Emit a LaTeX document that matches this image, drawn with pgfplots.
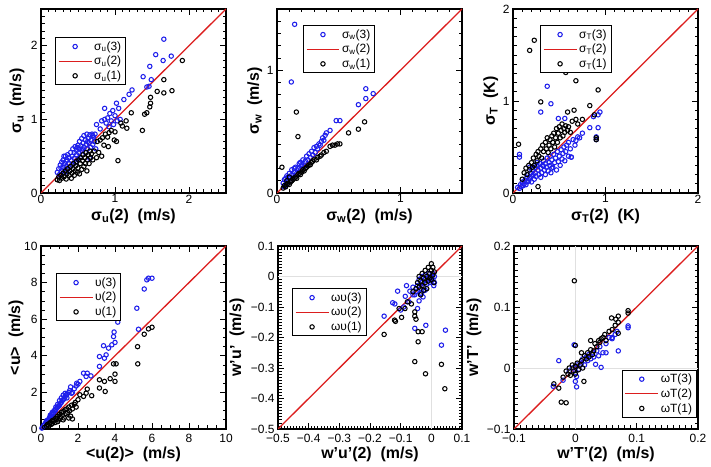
\documentclass[border=0pt]{standalone}
\usepackage{fontspec}
\setmainfont{Liberation Sans}
\usepackage{pgfplots}
\pgfplotsset{compat=1.18}
\definecolor{myblue}{RGB}{30,30,235}
\definecolor{myred}{RGB}{220,30,30}
\pgfplotsset{
  panel/.style={
    scale only axis, width=185bp, height=184bp,
    axis line style={line width=1.1pt},
    every tick/.style={black, line width=0.8pt},
    major tick length=6bp, minor tick length=3.5bp,
    tick label style={font=\fontsize{12}{14}\selectfont},
    xticklabel style={inner sep=1.5pt},
    yticklabel style={inner ysep=0pt},
    label style={font=\fontsize{16}{18}\selectfont\bfseries},
    /pgf/number format/assume math mode=true,
    legend style={draw=black, line width=1pt, font=\fontsize{12}{14}\selectfont,
      inner xsep=2.5pt, inner ysep=2pt, row sep=0.5pt, fill=white},
    legend cell align=left,
    anchor=south west,
    xlabel style={at={(axis description cs:0.5,-0.125)}, anchor=center},
    ylabel style={anchor=center},
  },
  lowrow/.style={xticklabel style={inner sep=0pt, yshift=-5bp},
    xlabel style={at={(axis description cs:0.5,-0.14)}}},
  bl/.style={only marks, mark=o, mark size=2.2bp, color=myblue, mark options={line width=1.05pt},
    legend image code/.code={\draw[mark repeat=2,mark phase=2,##1] plot coordinates {(0cm,0cm)(0.58cm,0cm)(1.16cm,0cm)};}},
  bk/.style={only marks, mark=o, mark size=2.2bp, color=black, mark options={line width=1.05pt},
    legend image code/.code={\draw[mark repeat=2,mark phase=2,##1] plot coordinates {(0cm,0cm)(0.58cm,0cm)(1.16cm,0cm)};}},
  rl/.style={color=myred, line width=1.3pt, no marks,
    legend image code/.code={\draw[##1, line width=1.3pt] (0cm,0cm) -- (1.16cm,0cm);}},
  zl/.style={color=black!12, line width=0.8pt, no marks, forget plot},
}
\begin{document}
\begin{tikzpicture}
\path[use as bounding box] (0,0) rectangle (711bp,467bp);

% ---------------- Panel 1: sigma_u
\begin{axis}[panel, at={(41bp,274bp)},
  xmin=0, xmax=2.5, ymin=0, ymax=2.5,
  xtick={0,1,2}, ytick={0,1,2},
  minor xtick={0,0.1,...,2.5}, minor ytick={0,0.1,...,2.5},
  xlabel={σ\textsubscript{u}(2)~~(m/s)}, ylabel={σ\textsubscript{u}~~(m/s)},
  ylabel style={at={(axis description cs:-0.13,0.5)}},
  legend style={at={(axis description cs:0.076,0.848)}, anchor=north west}]
\addplot[bl] coordinates {
(0.22,0.28)(0.24,0.33)(0.25,0.25)(0.26,0.38)(0.28,0.30)(0.28,0.42)(0.30,0.35)(0.30,0.45)
(0.32,0.28)(0.32,0.40)(0.33,0.50)(0.34,0.36)(0.35,0.45)(0.36,0.52)(0.36,0.32)(0.38,0.40)
(0.38,0.48)(0.40,0.55)(0.40,0.36)(0.41,0.44)(0.42,0.50)(0.43,0.60)(0.44,0.40)(0.45,0.47)
(0.45,0.55)(0.46,0.63)(0.47,0.42)(0.48,0.52)(0.48,0.58)(0.50,0.45)(0.50,0.65)(0.51,0.55)
(0.52,0.60)(0.52,0.70)(0.53,0.48)(0.54,0.64)(0.55,0.58)(0.55,0.74)(0.56,0.52)(0.57,0.68)
(0.58,0.62)(0.58,0.78)(0.60,0.55)(0.60,0.72)(0.61,0.66)(0.62,0.80)(0.63,0.60)(0.64,0.74)
(0.65,0.68)(0.66,0.79)(0.67,0.62)(0.68,0.72)(0.69,0.80)(0.70,0.66)(0.71,0.76)(0.72,0.70)
(0.73,0.80)(0.66,0.47)(0.74,0.60)(0.75,0.93)(0.80,0.87)(0.82,0.98)(0.86,1.15)(0.86,1.00)
(0.88,0.95)(0.90,1.02)(0.92,0.90)(0.93,1.08)(0.95,0.98)(0.97,1.12)(0.98,0.93)(1.00,1.05)
(1.02,1.22)(1.03,0.98)(1.05,1.15)(1.07,1.00)(1.12,1.27)(1.19,1.34)(1.23,1.40)(1.38,1.58)
(1.43,1.44)(1.46,1.45)(1.49,1.54)(1.47,1.72)(1.55,1.88)(1.65,1.80)(1.66,2.09)(1.76,1.86)
(0.27,0.34)(0.34,0.43)(0.42,0.38)(0.49,0.62)(0.56,0.60)(0.63,0.70)(0.70,0.78)(0.31,0.50)
};
\addlegendentry{σ\textsubscript{u}(3)}
\addplot[rl] coordinates {(0,0)(2.5,2.5)};
\addlegendentry{σ\textsubscript{u}(2)}
\addplot[bk] coordinates {
(0.22,0.18)(0.24,0.22)(0.25,0.17)(0.27,0.24)(0.28,0.20)(0.30,0.27)(0.31,0.22)(0.33,0.30)
(0.34,0.19)(0.35,0.26)(0.36,0.33)(0.38,0.24)(0.39,0.30)(0.40,0.36)(0.41,0.20)(0.42,0.27)
(0.43,0.33)(0.44,0.40)(0.45,0.24)(0.46,0.30)(0.47,0.37)(0.48,0.43)(0.49,0.28)(0.50,0.34)
(0.51,0.45)(0.52,0.26)(0.53,0.40)(0.54,0.48)(0.55,0.32)(0.56,0.44)(0.57,0.52)(0.58,0.36)
(0.59,0.48)(0.60,0.40)(0.61,0.55)(0.62,0.30)(0.63,0.45)(0.64,0.52)(0.65,0.40)(0.66,0.57)
(0.67,0.48)(0.68,0.53)(0.70,0.45)(0.72,0.57)(0.75,0.48)(0.76,0.70)(0.78,0.55)(0.80,0.72)
(0.82,0.50)(0.83,0.75)(0.85,0.65)(0.87,0.80)(0.91,0.63)(0.90,0.76)(0.92,0.82)(0.95,0.85)
(0.99,0.72)(1.02,0.70)(1.00,0.83)(1.04,0.44)(1.10,0.91)(1.16,0.88)(1.08,0.95)(1.15,0.98)
(1.22,1.09)(1.37,0.85)(1.40,1.07)(1.43,1.09)(1.47,1.17)(1.48,1.22)(1.48,1.30)(1.57,1.38)
(1.66,1.36)(1.66,1.54)(1.77,1.39)(1.91,1.80)
};
\addlegendentry{σ\textsubscript{u}(1)}
\end{axis}

% ---------------- Panel 2: sigma_w
\begin{axis}[panel, at={(277bp,274bp)},
  xmin=0, xmax=1.5, ymin=0, ymax=1.5,
  xtick={0,1}, ytick={0,1},
  minor xtick={0,0.1,...,1.5}, minor ytick={0,0.1,...,1.5},
  xlabel={σ\textsubscript{w}(2)~~(m/s)}, ylabel={σ\textsubscript{w}~~(m/s)},
  ylabel style={at={(axis description cs:-0.12,0.5)}},
  legend style={at={(axis description cs:0.14,0.913)}, anchor=north west}]
\addplot[bl] coordinates {
(0.05,0.08)(0.06,0.05)(0.06,0.11)(0.07,0.07)(0.08,0.10)(0.08,0.14)(0.09,0.08)(0.10,0.12)
(0.10,0.16)(0.11,0.10)(0.12,0.15)(0.12,0.19)(0.13,0.13)(0.14,0.17)(0.15,0.21)(0.16,0.16)
(0.17,0.20)(0.18,0.24)(0.19,0.19)(0.20,0.23)(0.21,0.27)(0.22,0.22)(0.23,0.26)(0.24,0.30)
(0.25,0.27)(0.26,0.32)(0.27,0.29)(0.28,0.34)(0.29,0.31)(0.30,0.37)(0.31,0.33)(0.32,0.38)
(0.33,0.36)(0.34,0.40)(0.35,0.39)(0.36,0.42)(0.37,0.45)(0.38,0.43)(0.39,0.47)(0.40,0.49)
(0.43,0.51)(0.48,0.59)(0.51,0.59)(0.66,0.72)(0.72,0.77)(0.72,0.85)(0.78,0.81)(0.116,0.905)
(0.143,1.375)(0.07,0.12)(0.09,0.13)(0.14,0.20)(0.19,0.25)
};
\addlegendentry{σ\textsubscript{w}(3)}
\addplot[rl] coordinates {(0,0)(1.5,1.5)};
\addlegendentry{σ\textsubscript{w}(2)}
\addplot[bk] coordinates {
(0.05,0.04)(0.06,0.06)(0.07,0.05)(0.08,0.07)(0.09,0.08)(0.10,0.07)(0.11,0.09)(0.12,0.10)
(0.13,0.11)(0.14,0.12)(0.15,0.13)(0.16,0.12)(0.17,0.15)(0.18,0.16)(0.19,0.15)(0.20,0.17)
(0.21,0.19)(0.22,0.18)(0.23,0.20)(0.24,0.21)(0.25,0.22)(0.26,0.23)(0.27,0.23)(0.28,0.25)
(0.29,0.26)(0.30,0.27)(0.32,0.27)(0.33,0.29)(0.35,0.30)(0.36,0.31)(0.38,0.33)(0.40,0.34)
(0.43,0.38)(0.47,0.39)(0.51,0.40)(0.58,0.49)(0.66,0.52)(0.71,0.58)(0.157,0.66)(0.17,0.46)
(0.04,0.21)(0.08,0.10)(0.10,0.13)(0.45,0.39)(0.49,0.40)
};
\addlegendentry{σ\textsubscript{w}(1)}
\end{axis}

% ---------------- Panel 3: sigma_T
\begin{axis}[panel, at={(513bp,274bp)},
  xmin=0, xmax=2, ymin=0, ymax=2,
  xtick={0,1,2}, ytick={0,1,2},
  minor tick num=9,
  xlabel={σ\textsubscript{T}(2)~~(K)}, ylabel={σ\textsubscript{T}~~(K)},
  ylabel style={at={(axis description cs:-0.12,0.5)}},
  legend style={at={(axis description cs:0.146,0.913)}, anchor=north west}]
\addplot[bl] coordinates {
(0.05,0.06)(0.07,0.05)(0.08,0.09)(0.09,0.07)(0.10,0.12)(0.11,0.08)(0.12,0.10)(0.13,0.14)
(0.14,0.09)(0.15,0.12)(0.15,0.17)(0.16,0.20)(0.17,0.13)(0.18,0.16)(0.19,0.22)(0.20,0.18)
(0.20,0.12)(0.21,0.25)(0.22,0.20)(0.23,0.15)(0.24,0.28)(0.24,0.22)(0.25,0.18)(0.26,0.30)
(0.27,0.25)(0.28,0.20)(0.29,0.32)(0.30,0.27)(0.30,0.17)(0.31,0.22)(0.32,0.30)(0.33,0.35)
(0.34,0.25)(0.35,0.20)(0.35,0.32)(0.36,0.28)(0.37,0.38)(0.38,0.24)(0.39,0.33)(0.40,0.30)
(0.40,0.40)(0.41,0.22)(0.42,0.36)(0.43,0.28)(0.44,0.42)(0.45,0.33)(0.46,0.38)(0.47,0.25)
(0.48,0.45)(0.49,0.34)(0.50,0.40)(0.51,0.30)(0.52,0.47)(0.53,0.37)(0.54,0.43)(0.55,0.50)
(0.56,0.35)(0.57,0.45)(0.58,0.52)(0.60,0.40)(0.60,0.55)(0.62,0.48)(0.63,0.39)(0.65,0.58)
(0.67,0.52)(0.68,0.57)(0.70,0.61)(0.37,1.16)(0.41,0.97)(0.30,0.88)(0.94,0.88)(0.92,0.85)
(0.87,0.83)(0.92,0.71)(0.83,0.71)(0.90,0.61)(0.42,0.27)(0.07,0.42)(0.07,0.39)(0.49,0.81)
(0.56,0.81)(0.90,0.58)(0.75,0.65)(0.72,0.60)(0.63,0.39)(0.18,0.28)(0.26,0.33)(0.33,0.29)
};
\addlegendentry{σ\textsubscript{T}(3)}
\addplot[rl] coordinates {(0,0)(2,2)};
\addlegendentry{σ\textsubscript{T}(2)}
\addplot[bk] coordinates {
(0.12,0.22)(0.14,0.27)(0.15,0.20)(0.17,0.30)(0.18,0.25)(0.20,0.33)(0.21,0.28)(0.22,0.38)
(0.23,0.30)(0.25,0.42)(0.26,0.35)(0.27,0.45)(0.28,0.40)(0.30,0.48)(0.31,0.38)(0.32,0.52)
(0.33,0.45)(0.35,0.55)(0.36,0.48)(0.37,0.60)(0.38,0.44)(0.39,0.52)(0.40,0.58)(0.41,0.48)
(0.42,0.62)(0.43,0.55)(0.44,0.65)(0.45,0.50)(0.46,0.60)(0.47,0.70)(0.48,0.55)(0.49,0.65)
(0.50,0.72)(0.51,0.60)(0.52,0.68)(0.53,0.75)(0.54,0.62)(0.55,0.70)(0.56,0.66)(0.57,0.73)
(0.59,0.68)(0.60,0.72)(0.62,0.66)(0.64,0.78)(0.66,0.90)(0.59,0.88)(0.68,0.80)(0.70,0.75)
(0.75,0.80)(0.23,1.66)(0.18,1.55)(0.57,1.31)(0.68,1.22)(0.92,1.12)(0.30,0.99)(0.83,0.95)
(0.06,0.53)(0.27,0.07)(0.90,0.58)(0.90,0.60)(0.88,0.85)(0.10,0.15)
};
\addlegendentry{σ\textsubscript{T}(1)}
\end{axis}

% ---------------- Panel 4: <u>
\begin{axis}[panel, lowrow, at={(41bp,38bp)}, height=183bp,
  xmin=0, xmax=10, ymin=0, ymax=10,
  xtick={0,2,...,10}, ytick={0,2,...,10},
  minor tick num=3,
  xlabel={<u(2)>~~(m/s)}, ylabel={<u>~~(m/s)},
  ylabel style={at={(axis description cs:-0.135,0.5)}},
  legend style={at={(axis description cs:0.081,0.852)}, anchor=north west}]
\addplot[bl] coordinates {
(0.1,0.1)(0.15,0.2)(0.2,0.25)(0.25,0.35)(0.3,0.38)(0.35,0.48)(0.4,0.5)(0.45,0.6)
(0.5,0.65)(0.55,0.7)(0.6,0.8)(0.65,0.85)(0.7,0.9)(0.75,1.0)(0.8,1.05)(0.85,1.15)
(0.9,1.2)(0.95,1.25)(1.0,1.3)(1.05,1.4)(1.1,1.45)(1.15,1.55)(1.2,1.6)(1.25,1.65)
(1.3,1.75)(1.35,1.85)(1.4,1.9)(1.5,2.0)(1.55,2.1)(1.6,2.3)(1.65,1.95)(1.7,2.0)
(1.8,2.2)(1.9,2.35)(2.0,2.45)(1.2,1.85)(1.0,1.55)(0.8,1.2)(0.6,0.9)(1.4,1.7)
(1.93,2.5)(2.1,2.6)(2.3,3.05)(2.44,2.87)(2.5,3.05)(2.7,2.9)(3.16,3.42)(3.16,3.96)
(3.43,3.87)(3.52,4.05)(3.38,4.55)(3.65,4.42)(3.83,4.6)(4.0,4.73)(3.92,5.05)(3.95,5.3)
(4.15,5.84)(5.27,5.45)(5.18,6.6)(5.58,7.65)(5.72,8.15)(5.81,8.24)(6.0,8.24)(0.05,0.05)
(0.3,0.45)(0.5,0.75)(0.7,1.0)(0.9,1.35)(1.1,1.7)(1.3,1.95)
};
\addlegendentry{υ(3)}
\addplot[rl] coordinates {(0,0)(10,10)};
\addlegendentry{υ(2)}
\addplot[bk] coordinates {
(0.2,0.1)(0.3,0.15)(0.35,0.25)(0.4,0.2)(0.45,0.3)(0.5,0.35)(0.55,0.25)(0.6,0.45)
(0.65,0.4)(0.7,0.5)(0.75,0.35)(0.8,0.6)(0.85,0.55)(0.9,0.7)(0.95,0.5)(1.0,0.8)
(1.05,0.65)(1.1,0.9)(1.15,0.75)(1.2,0.95)(1.25,0.6)(1.3,1.05)(1.35,0.85)(1.4,1.1)
(1.45,0.9)(1.5,1.2)(1.55,1.0)(1.6,0.7)(1.65,1.3)(1.7,1.1)(1.8,1.35)(1.85,1.45)
(1.9,1.2)(2.0,1.6)(0.6,0.3)(0.9,0.4)(1.2,0.5)(1.5,0.6)(1.7,0.55)(2.1,1.87)
(2.3,1.78)(2.44,1.96)(2.5,2.18)(2.74,1.82)(3.16,2.24)(3.16,2.69)(3.47,2.05)(3.43,2.6)
(3.74,2.75)(4.0,2.6)(4.0,3.0)(3.92,3.56)(4.06,3.56)(5.23,3.56)(5.22,4.5)(5.58,5.18)
(5.81,5.47)(6.0,5.56)
};
\addlegendentry{υ(1)}
\end{axis}

% ---------------- Panel 5: w'u'
\begin{axis}[panel, lowrow, at={(278bp,38bp)}, width=184bp, height=183bp,
  xmin=-0.5, xmax=0.1, ymin=-0.5, ymax=0.1,
  xtick={-0.5,-0.4,...,0.1}, ytick={-0.5,-0.4,...,0.1},
  xticklabels={−0.5,−0.4,−0.3,−0.2,−0.1,0,0.1},
  yticklabels={−0.5,−0.4,−0.3,−0.2,−0.1,0,0.1},
  minor tick num=9,
  xlabel={w'u'(2)~~(m/s)}, ylabel={w'u'~~(m/s)},
  ylabel style={at={(axis description cs:-0.223,0.5)}},
  legend style={at={(axis description cs:0.076,0.77)}, anchor=north west}]
\addplot[zl] coordinates {(-0.5,0)(0.1,0)};
\addplot[zl] coordinates {(0,-0.5)(0,0.1)};
\addplot[bl] coordinates {
(-0.045,-0.03)(-0.04,-0.01)(-0.035,-0.04)(-0.03,-0.02)(-0.03,0.00)(-0.025,-0.035)(-0.02,-0.01)
(-0.02,0.005)(-0.015,-0.025)(-0.01,-0.005)(-0.01,0.01)(-0.005,-0.02)(0.0,0.0)(0.0,-0.015)
(0.005,-0.01)(0.005,0.01)(0.01,-0.02)(0.01,0.0)(-0.05,-0.05)(-0.06,-0.06)(-0.035,-0.055)
(-0.02,-0.045)(0.008,-0.03)(-0.154,-0.13)(-0.11,-0.048)(-0.126,-0.086)(-0.119,-0.09)
(-0.10,-0.11)(-0.09,-0.10)(-0.081,-0.03)(-0.07,-0.048)(-0.054,-0.06)(-0.073,-0.083)
(-0.054,-0.17)(-0.018,-0.16)(-0.045,-0.105)(-0.04,-0.08)(0.046,-0.176)(0.033,-0.225)
(-0.027,-0.067)(-0.032,-0.056)(-0.06,-0.035)(-0.085,-0.065)
};
\addlegendentry{ωυ(3)}
\addplot[rl] coordinates {(-0.5,-0.5)(0.1,0.1)};
\addlegendentry{ωυ(2)}
\addplot[bk] coordinates {
(-0.05,-0.04)(-0.045,-0.02)(-0.04,-0.035)(-0.04,0.0)(-0.035,-0.015)(-0.03,-0.03)(-0.03,0.01)
(-0.025,-0.005)(-0.02,-0.02)(-0.02,0.02)(-0.015,0.0)(-0.01,-0.015)(-0.01,0.03)(-0.005,0.01)
(-0.005,-0.005)(0.0,0.042)(0.0,0.02)(0.0,-0.01)(0.005,0.03)(0.005,0.005)(0.008,-0.02)
(0.01,0.015)(-0.025,-0.045)(-0.035,-0.06)(-0.154,-0.19)(-0.12,-0.143)(-0.117,-0.147)
(-0.097,-0.134)(-0.086,-0.105)(-0.105,-0.105)(-0.078,-0.083)(-0.054,-0.116)(-0.054,-0.13)
(-0.05,-0.14)(-0.043,-0.181)(-0.03,-0.181)(-0.043,-0.214)(-0.054,-0.279)(-0.019,-0.319)
(0.033,-0.288)(0.044,-0.368)(-0.06,-0.05)(-0.015,-0.04)(-0.065,-0.09)
};
\addlegendentry{ωυ(1)}
\end{axis}

% ---------------- Panel 6: w'T'
\begin{axis}[panel, lowrow, at={(514bp,38bp)}, width=184bp, height=183bp,
  xmin=-0.1, xmax=0.2, ymin=-0.1, ymax=0.2,
  xtick={-0.1,0,0.1,0.2}, ytick={-0.1,0,0.1,0.2},
  xticklabels={−0.1,0,0.1,0.2},
  yticklabels={−0.1,0,0.1,0.2},
  minor tick num=9,
  xlabel={w'T'(2)~~(m/s)}, ylabel={w'T'~~(m/s)},
  ylabel style={at={(axis description cs:-0.217,0.5)}},
  legend style={at={(axis description cs:0.995,0.06)}, anchor=south east}]
\addplot[zl] coordinates {(-0.1,0)(0.2,0)};
\addplot[zl] coordinates {(0,-0.1)(0,0.2)};
\addplot[bl] coordinates {
(-0.01,-0.005)(-0.005,0.0)(0.0,-0.008)(0.003,0.005)(0.006,-0.002)(0.01,0.008)(0.012,0.015)
(0.015,0.005)(0.018,0.018)(0.02,0.012)(0.022,0.022)(0.025,0.015)(0.028,0.025)(0.03,0.018)
(0.035,0.028)(0.038,0.02)(0.04,0.035)(0.045,0.025)(0.05,0.04)(0.055,0.05)(0.06,0.048)
(0.065,0.055)(0.068,0.06)(0.086,0.069)(0.086,0.066)(0.07,0.028)(-0.027,0.012)(-0.036,-0.03)
(0.002,-0.031)(0.033,0.006)(0.042,0.001)(-0.002,0.038)(0.002,-0.014)(-0.02,-0.02)
(0.0,-0.022)(0.06,0.05)(0.05,0.025)
};
\addlegendentry{ωT(3)}
\addplot[rl] coordinates {(-0.1,-0.1)(0.2,0.2)};
\addlegendentry{ωT(2)}
\addplot[bk] coordinates {
(-0.02,-0.015)(-0.015,-0.005)(-0.012,-0.01)(-0.01,0.0)(-0.008,-0.012)(-0.005,0.005)
(-0.003,-0.005)(0.0,0.003)(0.0,-0.01)(0.003,0.008)(0.005,-0.003)(0.008,0.005)(0.01,0.012)
(0.012,0.0)(0.015,0.02)(0.018,0.015)(0.02,0.025)(0.022,0.018)(0.025,0.03)(0.028,0.022)
(0.03,0.028)(0.032,0.04)(0.035,0.035)(0.038,0.045)(0.04,0.042)(0.042,0.048)(0.045,0.05)
(0.048,0.055)(0.05,0.045)(0.055,0.06)(0.06,0.063)(0.065,0.07)(0.07,0.057)(0.07,0.075)
(-0.0016,0.143)(0.086,0.094)(0.086,0.09)(0.07,0.085)(0.059,0.082)(0.066,0.08)
(-0.023,-0.056)(-0.015,-0.057)(-0.035,-0.026)(-0.027,-0.033)(0.014,-0.022)(0.025,0.045)
(0.01,0.025)(0.0,0.037)
};
\addlegendentry{ωT(1)}
\end{axis}
\end{tikzpicture}
\end{document}
